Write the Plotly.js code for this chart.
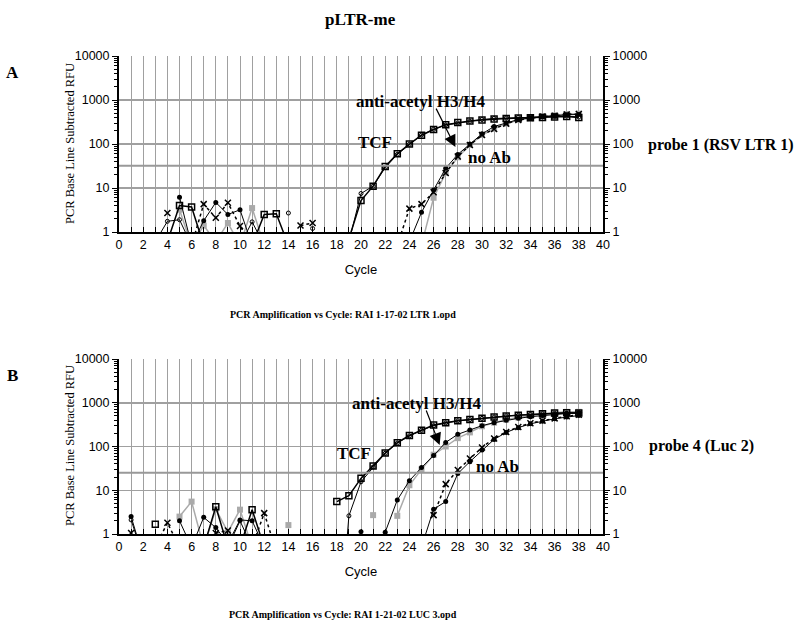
<!DOCTYPE html>
<html><head><meta charset="utf-8">
<script src="https://cdn.plot.ly/plotly-3.0.1.min.js"></script>
<style>html,body{margin:0;padding:0;background:#fff}#chart{width:800px;height:628px}</style>
</head><body><div id="chart"></div>
<script>
// ---- data (RFU per cycle, cycles 1..38; values < 1 are below the plotted range, null = not drawn) ----
const cycles = [1,2,3,4,5,6,7,8,9,10,11,12,13,14,15,16,17,18,19,20,21,22,23,24,25,26,27,28,29,30,31,32,33,34,35,36,37,38];

// Panel A (probe 1, RSV LTR 1)
const aTcfSquares = [null,null,null,0.6,4.0,3.7,0.5,null,null,null,0.5,2.5,2.6,0.5,null,null,null,null,0.7,5.2,11,31,60,100,158,213,275,307,333,350,370,380,390,395,400,410,420,400];
const aTcfCircles = [null,null,0.6,1.75,1.9,0.5,null,null,null,0.5,1.7,0.5,null,2.7,null,1.2,null,null,0.6,7.5,11,29,58,98,160,215,270,300,330,360,380,390,400,405,410,420,430,410];
const aAcetylDots = [null,null,null,null,6.2,0.5,1.8,4.7,2.5,3.2,0.5,null,null,null,null,null,null,null,null,null,null,null,null,0.6,2.8,9,28,58,100,170,250,300,360,390,420,440,460,470];
const aNoAbX      = [null,null,null,2.7,null,0.5,4.3,2.1,4.6,1.37,0.5,null,null,null,1.4,1.6,null,null,null,null,null,null,0.5,3.4,4.3,8,22,52,95,160,220,290,350,390,420,440,470,480];
const aAcetylGray = [null,null,null,null,3.2,0.5,1.4,0.6,1.6,0.5,3.5,0.5,null,null,null,null,null,null,null,null,null,null,null,null,0.5,6,22,50,95,160,220,290,350,390,430,450,480,490];
const aThreshold = 32;

// Panel B (probe 4, Luc 2)
const bTcfSquares = [null,null,1.66,null,null,null,0.5,4.2,0.5,0.5,3.6,0.5,null,null,null,null,null,5.5,7.5,18.7,36,71,122,178,236,310,350,390,415,440,470,500,520,540,560,580,590,580];
const bTcfCircles = [2.1,0.3,null,null,null,null,null,null,0.5,2.0,0.5,null,null,null,null,null,null,0.001,2.6,15.6,34,70,120,175,235,300,345,385,410,440,470,500,520,540,560,570,580,570];
const bAcetylDots = [2.5,0.3,null,null,2.0,0.5,2.4,1.4,0.6,2.1,2.0,0.5,null,null,null,null,null,null,null,1.13,null,1.1,6.0,16.5,33,62,124,190,237,300,350,400,440,480,510,540,570,600];
const bAcetylGray = [null,null,null,null,2.5,5.5,0.5,3.7,1.1,3.6,0.5,null,null,1.6,null,null,null,null,null,null,2.7,null,2.6,13,30,65,100,155,210,290,350,410,460,510,550,590,620,620];
const bNoAbX      = [1.05,null,0.5,1.8,0.5,null,null,1.05,1.2,null,0.5,3.0,0.4,null,null,null,null,null,null,null,null,null,null,null,null,2.7,13.8,29,53,95,153,215,280,340,390,440,490,530];
const bNoAbDots   = [null,null,null,null,null,null,null,null,null,null,null,null,null,null,null,null,null,null,null,null,null,null,null,null,0.5,3.7,5.5,24,45,83,145,210,270,330,380,430,470,510];
const bThreshold = 25;

const xRange = [0, 40];
const yTicks = [1, 10, 100, 1000, 10000];
const yMinorTicks = [2,3,4,5,6,7,8,9,20,30,40,50,60,70,80,90,200,300,400,500,600,700,800,900,2000,3000,4000,5000,6000,7000,8000,9000];

// ---- styles ----
const styles = {
  sq:   {mode:'lines+markers', line:{color:'#000',width:1.5}, marker:{symbol:'square-open',size:6,color:'#000',line:{width:1.5,color:'#000'}}},
  circ: {mode:'lines+markers', line:{color:'#000',width:1}, marker:{symbol:'circle-open',size:4,color:'#000',line:{width:1,color:'#000'}}},
  dot:  {mode:'lines+markers', line:{color:'#000',width:1}, marker:{symbol:'circle',size:5,color:'#000'}},
  x:    {mode:'lines+markers', line:{color:'#000',width:1.5,dash:'dot'}, marker:{symbol:'x-thin-open',size:6,line:{width:1.5,color:'#000'}}},
  gray: {mode:'lines+markers', line:{color:'#aaaaaa',width:1.5}, marker:{symbol:'square',size:6,color:'#aaaaaa'}}
};
function tr(y, st, xa, ya){ return Object.assign({type:'scatter', x:cycles, y:y, xaxis:xa, yaxis:ya, showlegend:false, hoverinfo:'skip', connectgaps:false}, JSON.parse(JSON.stringify(styles[st]))); }
function thr(v, xa, ya){ return {type:'scatter', mode:'lines', x:xRange, y:[v,v], xaxis:xa, yaxis:ya, line:{color:'#999999',width:2}, showlegend:false, hoverinfo:'skip'}; }

const data = [
  thr(aThreshold,'x','y3'),
  tr(aAcetylGray,'gray','x','y'), tr(aNoAbX,'x','x','y'), tr(aAcetylDots,'dot','x','y'),
  tr(aTcfCircles,'circ','x','y'), tr(aTcfSquares,'sq','x','y'),
  thr(bThreshold,'x2','y4'),
  tr(bAcetylGray,'gray','x2','y2'), tr(bNoAbX,'x','x2','y2'), tr(bNoAbDots,'dot','x2','y2'), tr(bAcetylDots,'dot','x2','y2'),
  tr(bTcfCircles,'circ','x2','y2'), tr(bTcfSquares,'sq','x2','y2')
];

// ---- layout ----
const W=800,H=628,L=119,R=197,T=56,B=94;
const pw=W-L-R, ph=H-T-B;
const px = v => (v-L)/pw;          // pixel x -> paper
const py = v => (H-B-v)/ph;        // pixel y -> paper
const tickFont = {family:'"Liberation Sans",Arial,sans-serif', size:12.5, color:'#000'};
const serif = '"Liberation Serif","Times New Roman",serif';
const yTitle = 'PCR Base Line Subtracted RFU';

function xax(anchor, title){ return {
  anchor:anchor, range:xRange, dtick:2, tick0:0, showgrid:true, gridcolor:'#a0a0a0', gridwidth:1,
  ticks:'inside', ticklen:5, tickcolor:'#000', showline:true, linecolor:'#000', linewidth:2,
  zeroline:false, tickfont:tickFont,
  minor:{dtick:1, showgrid:true, gridcolor:'#a0a0a0', gridwidth:1, ticks:'inside', ticklen:5, tickcolor:'#000'},
  title:{text:title, font:{family:tickFont.family,size:13,color:'#000'}, standoff:14}
};}
function yax(domain, side, overlay){
  const a = {type:'log', range:[0,4], domain:domain, tickvals:yTicks, ticktext:yTicks.map(String),
    ticks:'outside', ticklen:5, tickcolor:'#000', showline:true, linecolor:'#000', linewidth:2,
    zeroline:false, tickfont:tickFont, side:side,
    minor:{tickvals:yMinorTicks, ticks:'outside', ticklen:3, tickcolor:'#000', showgrid:false}};
  if (overlay){ a.overlaying = overlay; a.anchor = overlay==='y' ? 'x' : 'x2'; a.showgrid=false; }
  else { a.showgrid=true; a.gridcolor='#a0a0a0'; a.gridwidth=1.5; }
  return a;
}
const domA=[py(232),1], domB=[0,py(359)];

const ann = (text, x, y, size, bold, extra) => Object.assign({xref:'paper', yref:'paper', x:px(x), y:py(y), text: bold?('<b>'+text+'</b>'):text, showarrow:false, xanchor:'center', yanchor:'middle', font:{family:serif,size:size,color:'#000'}}, extra||{});

const layout = {
  width:W, height:H, margin:{l:L,r:R,t:T,b:B}, paper_bgcolor:'#fff', plot_bgcolor:'#fff',
  xaxis: xax('y','Cycle'), xaxis2: xax('y2','Cycle'),
  yaxis: yax(domA,'left',null),
  yaxis2: yax(domB,'left',null),
  yaxis3: yax(domA,'right','y'),
  yaxis4: yax(domB,'right','y2'),
  annotations: [
    ann('pLTR-me', 360, 20, 17, true),
    ann('A', 12, 73, 17, true),
    ann('B', 12, 375, 17, true),
    ann(yTitle, 70, 144, 12.5, false, {textangle:-90}),
    ann(yTitle, 70, 446, 12.5, false, {textangle:-90}),
    ann('probe 1 (RSV LTR 1)', 721, 145, 16, true),
    ann('probe 4 (Luc 2)', 701, 446, 16, true),
    ann('anti-acetyl H3/H4', 420, 101, 17, true),
    ann('TCF', 375, 143, 17, true),
    ann('no Ab', 489, 157, 17, true),
    ann('anti-acetyl H3/H4', 416, 403, 17, true),
    ann('TCF', 354, 453, 17, true),
    ann('no Ab', 497, 467, 17, true),
    ann('PCR Amplification vs Cycle: RAI 1-17-02 LTR 1.opd', 343, 314, 10, true),
    ann('PCR Amplification vs Cycle: RAI 1-21-02 LUC 3.opd', 343, 614, 10, true),
    {xref:'x', yref:'y', x:27.8, y:Math.log10(85), ax:-20, ay:-40, text:'', showarrow:true, arrowhead:2, arrowsize:2, arrowwidth:1.2, arrowcolor:'#000'},
    {xref:'x2', yref:'y2', x:26.5, y:Math.log10(108), ax:-14, ay:-36, text:'', showarrow:true, arrowhead:2, arrowsize:2, arrowwidth:1.2, arrowcolor:'#000'}
  ]
};
Plotly.newPlot('chart', data, layout, {staticPlot:true, displayModeBar:false});
</script></body></html>
